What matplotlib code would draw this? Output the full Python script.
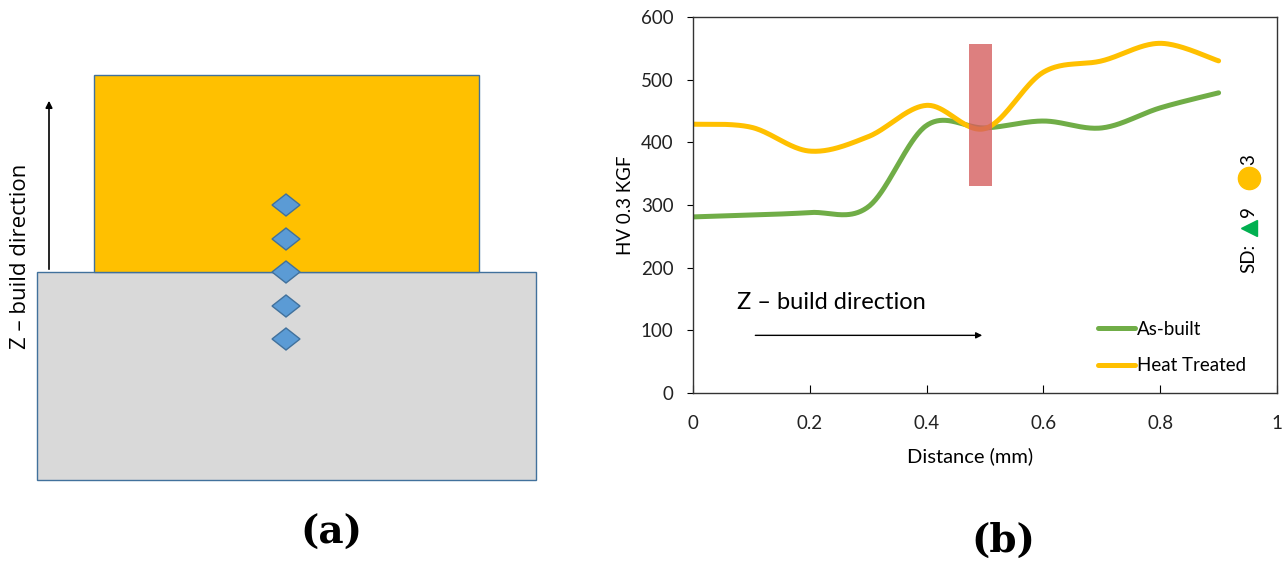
# -*- coding: utf-8 -*-
"""
   Microhardness across the deposit / substrate interface:
   (a) indent locations, (b) HV0.3 profile along the build direction.
"""
import numpy as np
import matplotlib.pyplot as plt
from matplotlib.patches import Rectangle, Polygon

# hardness profile (HV 0.3)
distance = [0.0, 0.1, 0.2, 0.3, 0.4, 0.5, 0.6, 0.7, 0.8, 0.9]
as_built = [281, 284, 288, 297, 427, 423, 434, 423, 455, 479]
heat_treated = [429, 424, 386, 409, 459, 422, 512, 530, 558, 530]
series_labels = ['As-built', 'Heat Treated']
sd_values = [9, 3]
x_ticks = [0, 0.2, 0.4, 0.6, 0.8, 1]
x_tick_labels = ['0', '0.2', '0.4', '0.6', '0.8', '1']
y_ticks = [0, 100, 200, 300, 400, 500, 600]
interface_band = [0.472, 0.512]   # distance range of the interface zone
interface_hv = [330, 557]

# schematic (pixel units of the left panel)
substrate = [37, 272, 499, 208]   # x, y, w, h
deposit = [94, 75, 385, 197]
indent_x = 286
indent_y = [205, 239, 272, 306, 339]

GREEN = '#70ad47'
ORANGE = '#ffc000'
SANS = ['Lato', 'DejaVu Sans']
FS = 13.5


def smooth(x, y, n=40):
    '''Catmull-Rom curve through the points (like a spreadsheet "smoothed line")'''
    p = np.column_stack([x, y]).astype(float)
    p = np.vstack([p[0], p, p[-1]])
    t = np.linspace(0, 1, n, endpoint=False)[:, None]
    out = []
    for i in range(1, len(p) - 2):
        p0, p1, p2, p3 = p[i - 1], p[i], p[i + 1], p[i + 2]
        seg = 0.5 * (2 * p1 + (-p0 + p2) * t
                     + (2 * p0 - 5 * p1 + 4 * p2 - p3) * t ** 2
                     + (-p0 + 3 * p1 - 3 * p2 + p3) * t ** 3)
        out.append(seg)
    out.append(p[-2][None, :])
    s = np.vstack(out)
    return s[:, 0], s[:, 1]


fig = plt.figure(figsize=(12.82, 5.61), dpi=100)

# ---- (a) schematic
ax0 = fig.add_axes([0, 0, 577 / 1282, 1])
ax0.set_xlim(0, 577)
ax0.set_ylim(561, 0)
ax0.axis('off')
ax0.add_patch(Rectangle(substrate[:2], substrate[2], substrate[3],
                        facecolor='#d9d9d9', edgecolor='#41719c', lw=1))
ax0.add_patch(Rectangle(deposit[:2], deposit[2], deposit[3],
                        facecolor=ORANGE, edgecolor='#41719c', lw=1))
for yy in indent_y:
    ax0.add_patch(Polygon([(indent_x - 14, yy), (indent_x, yy - 11),
                           (indent_x + 14, yy), (indent_x, yy + 11)],
                          closed=True, facecolor='#5b9bd5', edgecolor='#41719c', lw=1))
ax0.annotate('', xy=(49, 98), xytext=(49, 272),
             arrowprops=dict(arrowstyle='-|>', color='black', lw=1.2, mutation_scale=10))
ax0.text(21, 256, 'Z \u2013 build direction', rotation=90, ha='center', va='center',
         fontsize=16, family=['Open Sans', 'DejaVu Sans'])
ax0.text(331, 533, '(a)', ha='center', va='center', fontsize=28,
         fontweight='bold', family='DejaVu Serif')

# ---- (b) hardness profile
ax = fig.add_axes([693 / 1282, (561 - 393) / 561, 584 / 1282, 376 / 561])
xs, ys = smooth(distance, as_built)
ax.plot(xs, ys, color=GREEN, lw=3.6, solid_capstyle='round', label=series_labels[0])
xs, ys = smooth(distance, heat_treated)
ax.plot(xs, ys, color=ORANGE, lw=3.6, solid_capstyle='round', label=series_labels[1])
ax.add_patch(Rectangle((interface_band[0], interface_hv[0]),
                       interface_band[1] - interface_band[0],
                       interface_hv[1] - interface_hv[0],
                       facecolor='#d55f5f', alpha=0.8, lw=0, zorder=5))

ax.set_xlim(0, 1)
ax.set_ylim(0, 600)
ax.set_xticks(x_ticks)
ax.set_xticklabels(x_tick_labels)
ax.set_yticks(y_ticks)
ax.tick_params(axis='x', direction='in', length=6, pad=16)
ax.tick_params(axis='y', direction='out', length=4, pad=10)
for lab in ax.get_xticklabels() + ax.get_yticklabels():
    lab.set_family(SANS)
    lab.set_fontsize(FS)
    lab.set_color('#222222')
for sp in ax.spines.values():
    sp.set_color('#333333')
    sp.set_linewidth(1)

ax.set_xlabel('Distance (mm)', fontsize=14.5, family=SANS)
ax.xaxis.set_label_coords(0.474, -0.145)
ax.set_ylabel('HV 0.3 KGF', fontsize=FS, family=SANS, labelpad=5)

ax.legend(loc='lower left', bbox_to_anchor=(0.68, 0.03), frameon=False,
          borderaxespad=0, handlelength=2.0, handletextpad=0.1, labelspacing=1.05,
          prop={'family': SANS, 'size': FS})

ax.text(0.075, 144, 'Z \u2013 build direction', ha='left', va='center',
        fontsize=17, family=SANS)
ax.annotate('', xy=(0.50, 92), xytext=(0.102, 92),
            arrowprops=dict(arrowstyle='-|>', color='black', lw=1, mutation_scale=9))

# standard deviation key
sd_x = 0.952
ax.text(sd_x, 215, 'SD:', rotation=90, ha='center', va='center', fontsize=FS, family=SANS)
ax.plot([sd_x], [263], marker='<', ms=11, color='#00b050', clip_on=False)
ax.text(sd_x, 290, str(sd_values[0]), rotation=90, ha='center', va='center',
        fontsize=FS, family=SANS)
ax.plot([sd_x], [343], marker='o', ms=16, color=ORANGE, clip_on=False)
ax.text(sd_x, 372, str(sd_values[1]), rotation=90, ha='center', va='center',
        fontsize=FS, family=SANS)

fig.text(1003 / 1282, 1 - 541 / 561, '(b)', ha='center', va='center', fontsize=28,
         fontweight='bold', family='DejaVu Serif')

fig.savefig('out.png', dpi=100)
